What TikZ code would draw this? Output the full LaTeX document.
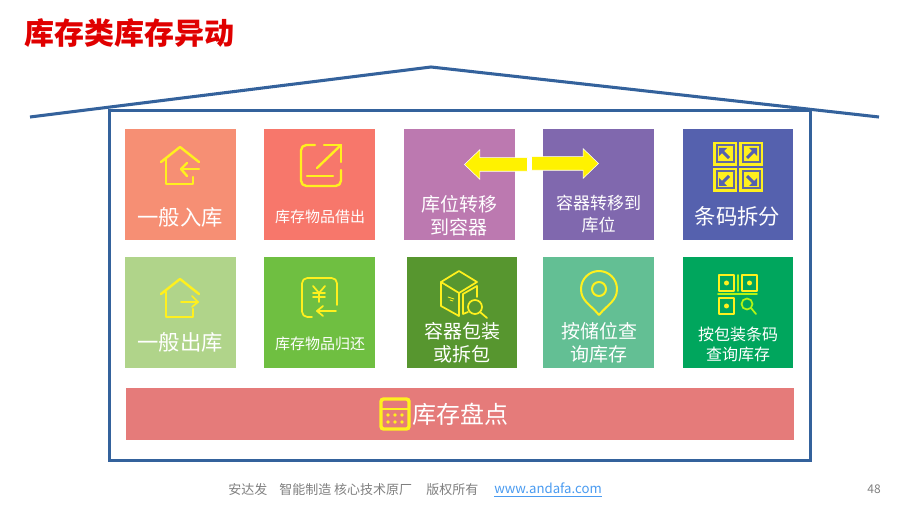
\documentclass[tikz,border=0pt]{standalone}
\usepackage{fontspec}
\setmainfont{Noto Sans CJK SC}
\usetikzlibrary{shapes.arrows}
\definecolor{wallblue}{HTML}{34629C}
\definecolor{iconyellow}{HTML}{FFF01E}
\definecolor{footgray}{HTML}{7F7F7F}
\definecolor{linkblue}{HTML}{4A9BF0}
\definecolor{codeblue}{HTML}{5561AE}
\tikzset{
  tilebox/.style={inner sep=0pt, minimum width=83.25pt, minimum height=83.25pt},
  tiletext/.style={text=white, align=center, inner sep=0pt},
  bigtext/.style={tiletext, font=\fontsize{16}{18}\selectfont},
  midtext/.style={tiletext, font=\fontsize{14.25}{17}\selectfont},
  smalltext/.style={tiletext, font=\fontsize{11.25}{14}\selectfont},
  icon/.style={draw=iconyellow, line width=1.8pt, line join=round, line cap=round},
  thinicon/.style={icon, line width=1.3pt},
  wall/.style={draw=wallblue, line width=2.3pt},
  yarrow/.style={single arrow, fill=yellow, draw=white, line width=0.4pt, inner xsep=0pt, inner ysep=0pt,
    minimum width=21.75pt, single arrow head extend=6pt, single arrow tip angle=88},
  foot/.style={text=footgray, anchor=west, inner sep=0pt, font=\fontsize{9.75}{12}\selectfont}
}
\begin{document}
\begin{tikzpicture}[x=0.75pt, y=-0.75pt]
  \useasboundingbox (0,0) rectangle (907,509);
  \node[anchor=west, inner sep=0pt, text={rgb,255:red,224;green,0;blue,0},
    font=\fontsize{22.5}{26}\selectfont\bfseries] (title) at (24,33) {库存类库存异动};
  % house
  \coordinate (eaveL) at (30,117);
  \coordinate (ridge) at (431,67);
  \coordinate (eaveR) at (879,117);
  \draw[wall] (eaveL) -- (ridge) -- (eaveR);
  \node[wall, inner sep=0pt, minimum width=525.75pt, minimum height=262.5pt] (house) at (460,285.5) {};
  % first row
  \node[tilebox, fill={rgb,255:red,246;green,143;blue,116}] (in) at (180.5,184.5) {};
  \node[tilebox, fill={rgb,255:red,247;green,119;blue,107}] (lend) at (319.5,184.5) {};
  \node[tilebox, fill={rgb,255:red,188;green,121;blue,176}] (tobin) at (459.5,184.5) {};
  \node[tilebox, fill={rgb,255:red,128;green,104;blue,174}] (toloc) at (598.5,184.5) {};
  \node[tilebox, fill=codeblue, minimum width=82.5pt] (split) at (738,184.5) {};
  % second row
  \node[tilebox, fill={rgb,255:red,176;green,212;blue,138}] (out) at (180.5,312.5) {};
  \node[tilebox, fill={rgb,255:red,111;green,191;blue,65}] (back) at (319.5,312.5) {};
  \node[tilebox, fill={rgb,255:red,87;green,150;blue,47}, minimum width=82.5pt] (pack) at (462,312.5) {};
  \node[tilebox, fill={rgb,255:red,99;green,191;blue,148}] (loc) at (598.5,312.5) {};
  \node[tilebox, fill={rgb,255:red,0;green,166;blue,93}, minimum width=82.5pt] (code) at (738,312.5) {};
  \node[fill={rgb,255:red,229;green,123;blue,122}, inner sep=0pt, minimum width=501pt, minimum height=39pt] (count) at (460,414) {};
  % labels
  \node[bigtext] (inT) at (180,217) {一般入库};
  \node[smalltext] (lendT) at (320,217) {库存物品借出};
  \node[midtext] (tobinT) at (459,215.5) {库位转移\\到容器};
  \node[tiletext, font=\fontsize{12.75}{16.5}\selectfont] (tolocT) at (598.5,214.5) {容器转移到\\库位};
  \node[bigtext] (splitT) at (737.5,216) {条码拆分};
  \node[bigtext] (outT) at (180,342) {一般出库};
  \node[smalltext] (backT) at (320,344) {库存物品归还};
  \node[midtext] (packT) at (462,343) {容器包装\\或拆包};
  \node[midtext] (locT) at (599,343) {按储位查\\询库存};
  \node[tiletext, font=\fontsize{12}{15}\selectfont] (codeT) at (738,344) {按包装条码\\查询库存};
  \node[tiletext, font=\fontsize{18}{20}\selectfont] (countT) at (460,414) {库存盘点};
  % arrows across the two tiles
  \node[yarrow, shape border rotate=180, minimum height=47.25pt] (arrL) at (499.5,164.5) {\rule{0pt}{9.75pt}};
  \node[yarrow, minimum height=50.25pt] (arrR) at (561.5,163.5) {\rule{0pt}{9.75pt}};
  % house in
  \draw[icon] (161,162) -- (180,147) -- (199,162);
  \draw[icon] (166,158) -- (166,184) -- (193,184) -- (193,177);
  \draw[icon] (199,169) -- (181,169);
  \draw[icon] (187,163) -- (181,169) -- (187,176);
  % lend
  \draw[icon, rounded corners=4pt] (315,145) -- (301,145) -- (301,186) -- (341,186) -- (341,170);
  \draw[icon] (317,168) -- (341,145);
  \draw[icon] (324,145) -- (341,145) -- (341,162);
  \draw[icon] (307,176) -- (333,176);
  % barcode split
  \foreach \cx/\cy/\dx/\dy in {725/154/-1/-1, 751/154/1/-1, 725/180/-1/1, 751/180/1/1}{
    \fill[iconyellow] (\cx-12,\cy-12) rectangle (\cx+12,\cy+12);
    \fill[codeblue!70!gray] (\cx-9.5,\cy-9.5) rectangle (\cx+9.5,\cy+9.5);
    \fill[iconyellow] (\cx-7.5,\cy-7.5) rectangle (\cx+7.5,\cy+7.5);
    \draw[codeblue, line width=2.2pt] (\cx-4*\dx,\cy-4*\dy) -- (\cx+3*\dx,\cy+3*\dy);
    \fill[codeblue] (\cx+6*\dx,\cy+6*\dy) -- (\cx+6*\dx,\cy-2*\dy) -- (\cx-2*\dx,\cy+6*\dy) -- cycle;
  }
  % house out
  \draw[icon] (161,294) -- (180,279) -- (199,294);
  \draw[icon] (166,292) -- (166,317) -- (193,317) -- (193,309);
  \draw[thinicon] (181,302) -- (198,302);
  \draw[thinicon] (192,296) -- (198,302) -- (192,307);
  % yen
  \draw[thinicon, rounded corners=4pt] (337,305) -- (337,278) -- (302,278) -- (302,317) -- (312,317);
  \draw[thinicon] (336,311) -- (317,311);
  \draw[thinicon] (323,306) -- (317,311) -- (323,316);
  \draw[thinicon] (313,286) -- (319,293) -- (325,286);
  \draw[thinicon] (313,293) -- (325,293);
  \draw[thinicon] (313,297) -- (325,297);
  \draw[thinicon] (319,293) -- (319,302);
  % box with lens
  \draw[thinicon] (441,282) -- (459,271) -- (477,282) -- (459,293) -- cycle;
  \draw[thinicon] (441,282) -- (441,306) -- (459,316) -- (459,293);
  \draw[thinicon] (463,294) -- (477,286) -- (477,297);
  \draw[thinicon] (463,294) -- (463,314) -- (468,312);
  \draw[thinicon, line width=0.7pt] (448,297) -- (454,299);
  \draw[thinicon, line width=0.7pt] (450,300) -- (453,301);
  \draw[thinicon] (475,307) circle (7);
  \draw[thinicon] (480,312) -- (487,318);
  % pin
  \draw[icon, line width=1.5pt] (599,315) .. controls (590,304) and (581,301) .. (581,289)
    arc[start angle=180, end angle=360, radius=18]
    .. controls (617,301) and (608,304) .. (599,315);
  \draw[icon, line width=1.5pt] (599,289) circle (7);
  % qr
  \draw[thinicon] (719,275) rectangle (734,291);
  \draw[thinicon] (742,275) rectangle (757,291);
  \draw[thinicon] (719,298) rectangle (734,314);
  \fill[iconyellow] (726.5,283) circle (2.5);
  \fill[iconyellow] (749.5,283) circle (2.5);
  \fill[iconyellow] (726.5,306) circle (2.5);
  \draw[thinicon, draw=iconyellow!70!green] (738,275) -- (738,291);
  \draw[thinicon, draw=iconyellow!70!green] (718,294) -- (757,294);
  \draw[thinicon, draw=iconyellow!70!green] (747,304) circle (5.5);
  \draw[thinicon, draw=iconyellow!70!green] (751,308) -- (756,314);
  % calendar
  \draw[draw=iconyellow, line width=2.6pt, rounded corners=2pt] (381,399) rectangle (409,429);
  \draw[draw=iconyellow, line width=2.2pt] (381,409) -- (409,409);
  \foreach \dotx in {388,395,402}{
    \foreach \doty in {415,422}{
      \fill[iconyellow] (\dotx,\doty) circle (1.8);
    }
  }
  % footer
  \node[foot] (foota) at (228,490) {安达发};
  \node[foot] (footb) at (279,490) {智能制造 核心技术原厂};
  \node[foot] (footc) at (426,490) {版权所有};
  \node[foot, text=linkblue, font=\fontsize{9.9}{12}\selectfont] (footd) at (494,490) {\underline{www.andafa.com}};
  \node[foot, text=gray, font=\fontsize{9}{11}\selectfont, anchor=center] (page) at (874,489) {48};
\end{tikzpicture}
\end{document}
